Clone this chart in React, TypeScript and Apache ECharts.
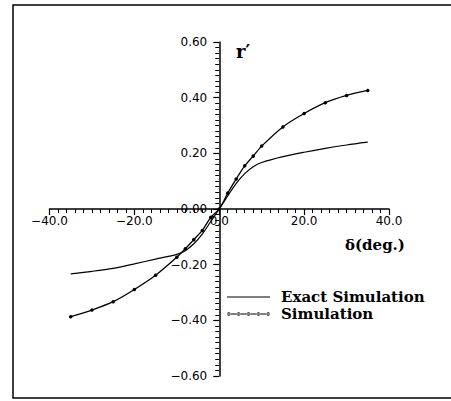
import React, { useEffect, useRef } from "react";
import * as echarts from "echarts";

const deltaDeg = [-35, -30, -25, -20, -15, -10, -8, -6, -4, -2, 0, 2, 4, 6, 8, 10, 15, 20, 25, 30, 35];
const exactValues = [-0.233, -0.224, -0.213, -0.197, -0.18, -0.163, -0.15, -0.125, -0.09, -0.045, 0, 0.047, 0.092, 0.127, 0.152, 0.167, 0.188, 0.204, 0.218, 0.23, 0.24];
const simulationValues = [-0.387, -0.363, -0.333, -0.289, -0.238, -0.173, -0.143, -0.11, -0.077, -0.03, 0, 0.057, 0.108, 0.155, 0.19, 0.226, 0.295, 0.343, 0.382, 0.408, 0.426];
const seriesNames = ["Exact Simulation", "Simulation"];
const xAxisTitle = "δ(deg.)";
const yAxisTitle = "r′";

const fmt = (v: number, d: number) => {
  const s = Math.abs(v).toFixed(d);
  return v < -1e-9 ? "−" + s : s;
};

const GRID_LEFT = 49.5;
const GRID_RIGHT = 62;
const GRID_TOP = 42;
const GRID_BOTTOM = 25;
const W = 451;
const H = 401;

export default function App() {
  const ref = useRef<HTMLDivElement>(null);
  useEffect(() => {
    document.body.style.margin = "0";
    const chart = echarts.init(ref.current!, null, { renderer: "svg" });
    const axisColor = "#000";
    const labelFont = { fontFamily: "DejaVu Sans", fontSize: 12, color: "#000" };
    const gridW = W - GRID_LEFT - GRID_RIGHT;
    const gridH = H - GRID_TOP - GRID_BOTTOM;
    const lineIcon = "path://M0,0 M0,10 M0,4.4 L43,4.4 L43,5.6 L0,5.6 Z";
    const dotIcon =
      "path://M0,0 M0,10 M0,4.4 L43,4.4 L43,5.6 L0,5.6 Z " +
      [1.8, 11.6, 21.5, 31.4, 41.2]
        .map((cx) => `M${cx - 1.8},5 a1.8,1.8 0 1,0 3.6,0 a1.8,1.8 0 1,0 -3.6,0 Z`)
        .join(" ");
    chart.setOption({
      animation: false,
      backgroundColor: "#fff",
      grid: { left: GRID_LEFT, right: GRID_RIGHT, top: GRID_TOP, bottom: GRID_BOTTOM },
      xAxis: {
        type: "value",
        min: -40,
        max: 40,
        interval: 20,
        position: "bottom",
        offset: -gridH / 2,
        splitLine: { show: false },
        axisLine: { show: true, onZero: false, lineStyle: { color: axisColor, width: 1.5 } },
        axisTick: { show: true, inside: false, length: 6, lineStyle: { color: axisColor, width: 1.2 } },
        minorTick: { show: true, splitNumber: 10, length: 4, lineStyle: { color: axisColor, width: 1 } },
        axisLabel: { show: true, ...labelFont, margin: 6, formatter: (v: number) => fmt(v, 1) },
      },
      yAxis: {
        type: "value",
        min: -0.6,
        max: 0.6,
        interval: 0.2,
        position: "left",
        offset: -gridW / 2,
        splitLine: { show: false },
        axisLine: { show: true, onZero: false, lineStyle: { color: axisColor, width: 1.5 } },
        axisTick: { show: true, inside: false, length: 6, lineStyle: { color: axisColor, width: 1.2 } },
        minorTick: { show: true, splitNumber: 10, length: 4, lineStyle: { color: axisColor, width: 1 } },
        axisLabel: { show: true, ...labelFont, margin: 12, formatter: (v: number) => fmt(v, 2) },
      },
      legend: {
        orient: "vertical",
        left: 227,
        top: 289,
        padding: 0,
        itemWidth: 43,
        itemHeight: 10,
        itemGap: 1,
        symbolKeepAspect: false,
        textStyle: {
          fontFamily: "DejaVu Serif",
          fontWeight: "bold",
          fontSize: 15,
          lineHeight: 16,
          color: "#000",
          padding: [0, 0, 0, 6],
        },
        data: [
          { name: seriesNames[0], icon: lineIcon, itemStyle: { color: "#000", borderWidth: 0 } },
          { name: seriesNames[1], icon: dotIcon, itemStyle: { color: "#000", borderWidth: 0 } },
        ],
      },
      series: [
        {
          name: seriesNames[0],
          type: "line",
          data: deltaDeg.map((x, i) => [x, exactValues[i]]),
          smooth: 0.3,
          showSymbol: false,
          symbol: "none",
          lineStyle: { color: "#000", width: 1.2 },
          itemStyle: { color: "#000" },
        },
        {
          name: seriesNames[1],
          type: "line",
          data: deltaDeg.map((x, i) => [x, simulationValues[i]]),
          smooth: 0.3,
          symbol: "circle",
          symbolSize: 3.5,
          lineStyle: { color: "#000", width: 1.3 },
          itemStyle: { color: "#000" },
        },
      ],
      graphic: [
        {
          type: "rect",
          shape: { x: 13, y: 5, width: 450, height: 393 },
          style: { fill: "none", stroke: "#000", lineWidth: 1.5 },
          silent: true,
        },
        {
          type: "text",
          x: 236,
          y: 42,
          style: {
            text: yAxisTitle,
            fontFamily: "DejaVu Serif",
            fontWeight: "bold",
            fontSize: 18,
            fill: "#000",
          },
        },
        {
          type: "text",
          x: 345,
          y: 237,
          style: {
            text: xAxisTitle,
            fontFamily: "DejaVu Serif",
            fontWeight: "bold",
            fontSize: 15,
            fill: "#000",
          },
        },
      ],
    });
    return () => chart.dispose();
  }, []);
  return <div ref={ref} style={{ width: W, height: H }} />;
}
